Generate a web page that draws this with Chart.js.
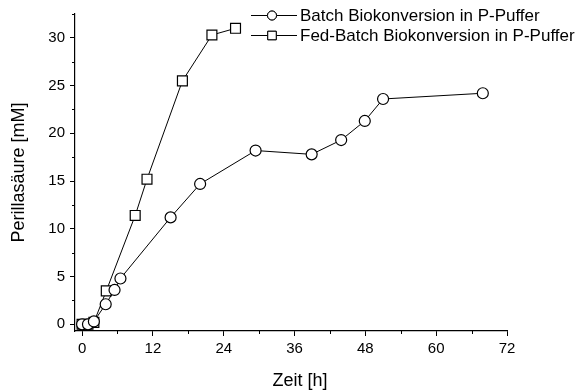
<!DOCTYPE html>
<html lang="de">
<head>
    <meta charset="UTF-8">
    <title>Perillasäure</title>
    <script src="https://cdn.jsdelivr.net/npm/chart.js"></script>
    <style>
        html, body { margin: 0; padding: 0; background: #fff; }
        #wrap { width: 581px; height: 391px; }
    </style>
</head>
<body>
    <div id="wrap"><canvas id="chart" width="581" height="391"></canvas></div>
    <script>
        // values
        const batchTime = [0, 1, 2, 4, 5.5, 6.5, 15, 20, 29.4, 38.9, 43.9, 47.9, 51, 67.9];
        const batchAcid = [0, 0, 0.3, 2.1, 3.6, 4.8, 11.2, 14.7, 18.2, 17.8, 19.3, 21.3, 23.6, 24.2];
        const fedTime = [0, 1, 2, 4.1, 9, 11, 17, 22, 26];
        const fedAcid = [0, 0, 0.2, 3.5, 11.4, 15.2, 25.5, 30.3, 31.0];

        const xTicks = [0, 12, 24, 36, 48, 60, 72];
        const yTicks = [0, 5, 10, 15, 20, 25, 30];
        const seriesNames = ['Batch Biokonversion in P-Puffer', 'Fed-Batch Biokonversion in P-Puffer'];
        const xTitle = 'Zeit [h]';

        const FONT = 'Arial, "Liberation Sans", sans-serif';

        const toPoints = (xs, ys) => xs.map((x, i) => ({ x: x, y: ys[i] }));

        // minor ticks, x title (sits a bit right of centre) and legend with line + marker
        const extras = {
            id: 'extras',
            afterDraw(chart) {
                const ctx = chart.ctx;
                const xs = chart.scales.x, ys = chart.scales.y;
                const area = chart.chartArea;
                ctx.save();
                ctx.strokeStyle = '#000';
                ctx.lineWidth = 1;
                ctx.beginPath();
                for (let i = 0; i < xTicks.length - 1; i++) {
                    const px = Math.round(xs.getPixelForValue((xTicks[i] + xTicks[i + 1]) / 2)) + 0.5;
                    ctx.moveTo(px, area.bottom);
                    ctx.lineTo(px, area.bottom + 3);
                }
                for (let i = 0; i < yTicks.length; i++) {
                    const v = yTicks[i] + 2.5;
                    if (v > ys.max) break;
                    const py = Math.round(ys.getPixelForValue(v)) + 0.5;
                    ctx.moveTo(area.left, py);
                    ctx.lineTo(area.left - 3, py);
                }
                ctx.stroke();

                ctx.fillStyle = '#000';
                ctx.font = '18px ' + FONT;
                ctx.textAlign = 'center';
                ctx.textBaseline = 'middle';
                ctx.fillText(xTitle, 300, 381);

                // legend
                ctx.font = '17px ' + FONT;
                ctx.textAlign = 'left';
                const rows = [15, 35];
                const legendRadius = [4.5, 6];
                chart.data.datasets.forEach((ds, i) => {
                    const y = rows[i] + 0.5;
                    ctx.beginPath();
                    ctx.lineWidth = 1;
                    ctx.moveTo(251, y);
                    ctx.lineTo(297, y);
                    ctx.stroke();
                    Chart.helpers.drawPoint(ctx, {
                        pointStyle: ds.pointStyle,
                        radius: legendRadius[i],
                        borderWidth: 1.2
                    }, 272, y);
                    ctx.fillStyle = '#fff';
                    ctx.fill();
                    ctx.stroke();
                    ctx.fillStyle = '#000';
                    ctx.fillText(seriesNames[i], 300, rows[i] + 1);
                });
                ctx.restore();
            }
        };

        new Chart(document.getElementById('chart'), {
            type: 'line',
            data: {
                datasets: [{
                    label: seriesNames[0],
                    data: toPoints(batchTime, batchAcid),
                    borderColor: '#000',
                    borderWidth: 1,
                    pointStyle: 'circle',
                    pointRadius: 5.5,
                    pointBorderWidth: 1.2,
                    pointBackgroundColor: '#fff',
                    pointBorderColor: '#000'
                }, {
                    label: seriesNames[1],
                    data: toPoints(fedTime, fedAcid),
                    borderColor: '#000',
                    borderWidth: 1,
                    pointStyle: 'rect',
                    pointRadius: 7,
                    pointBorderWidth: 1.2,
                    pointBackgroundColor: '#fff',
                    pointBorderColor: '#000'
                }]
            },
            options: {
                responsive: false,
                animation: false,
                layout: { padding: { left: 0, top: 13, right: 74, bottom: 0 } },
                plugins: {
                    legend: { display: false },
                    tooltip: { enabled: false }
                },
                scales: {
                    x: {
                        type: 'linear',
                        min: -1.2,
                        max: 72,
                        afterBuildTicks: s => { s.ticks = xTicks.map(v => ({ value: v })); },
                        afterFit: s => { s.height = 60; },
                        grid: { drawOnChartArea: false, color: '#000', tickLength: 5, tickWidth: 1 },
                        border: { color: '#000', width: 1.2 },
                        ticks: { color: '#000', font: { family: FONT, size: 15 }, padding: 4, maxRotation: 0 },
                        title: { display: false }
                    },
                    y: {
                        min: -0.7,
                        max: 32.5,
                        afterBuildTicks: s => { s.ticks = yTicks.map(v => ({ value: v })); },
                        afterFit: s => { s.width = 75; },
                        grid: { drawOnChartArea: false, color: '#000', tickLength: 5, tickWidth: 1 },
                        border: { color: '#000', width: 1.2 },
                        ticks: { color: '#000', font: { family: FONT, size: 15 }, padding: 5 },
                        title: { display: true, text: 'Perillasäure [mM]', color: '#000', font: { family: FONT, size: 18 }, padding: { top: 8, bottom: 0 } }
                    }
                }
            },
            plugins: [extras]
        });
    </script>
</body>
</html>
